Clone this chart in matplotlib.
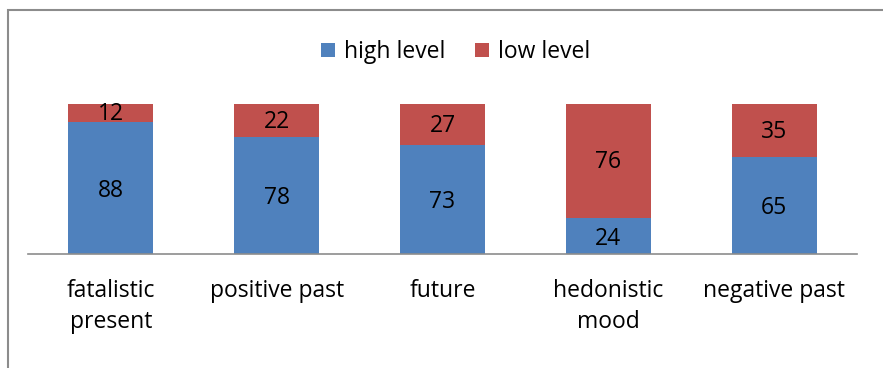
import matplotlib
matplotlib.use("Agg")
import matplotlib.pyplot as plt
from matplotlib.patches import Rectangle

categories = ["fatalistic\npresent", "positive past", "future", "hedonistic\nmood", "negative past"]
high_level = [88, 78, 73, 24, 65]
low_level = [12, 22, 27, 76, 35]

W, H = 883, 368
fig = plt.figure(figsize=(W / 100, H / 100), dpi=100)
plt.rcParams['font.family'] = ['Open Sans', 'DejaVu Sans']
FS = 16.5

# frame around the chart area
fig.patches.append(Rectangle((8 / W, -0.1), 2.0, 1 - 10 / H + 0.1,
                             transform=fig.transFigure, fill=False,
                             edgecolor="#8c8c8c", linewidth=1.5))

ax_left, ax_right = 28 / W, 857 / W
ax_bottom, ax_top = 1 - 254 / H, 1 - 104 / H
ax = fig.add_axes([ax_left, ax_bottom, ax_right - ax_left, ax_top - ax_bottom])

blue = "#4f81bd"
red = "#c0504d"
x = range(len(categories))
width = 0.512
b1 = ax.bar(x, high_level, width, color=blue, label="high level")
b2 = ax.bar(x, low_level, width, bottom=high_level, color=red, label="low level")

for i in x:
    ax.annotate(str(high_level[i]), (i, high_level[i] / 2), xytext=(0, -2),
                textcoords="offset points", ha="center", va="center",
                fontsize=FS, color="black")
    ax.annotate(str(low_level[i]), (i, high_level[i] + low_level[i] / 2),
                xytext=(0, -1), textcoords="offset points", ha="center",
                va="center", fontsize=FS, color="black")

ax.set_xlim(-0.5, 4.5)
ax.set_ylim(0, 100)
ax.set_yticks([])
ax.set_xticks(list(x))
ax.set_xticklabels(categories, fontsize=FS, linespacing=1.4)
ax.tick_params(axis="x", length=0, pad=18)
for s in ["top", "right", "left"]:
    ax.spines[s].set_visible(False)
ax.spines["bottom"].set_color("#8c8c8c")
ax.spines["bottom"].set_linewidth(1.2)

fig.legend(handles=[b1, b2], labels=["high level", "low level"], loc="center",
           bbox_to_anchor=(456 / W, 1 - 52 / H), ncol=2, frameon=False,
           fontsize=FS, handlelength=0.6, handleheight=0.6,
           handletextpad=0.4, columnspacing=1.3)

fig.savefig("out.png", dpi=100, facecolor="white")
